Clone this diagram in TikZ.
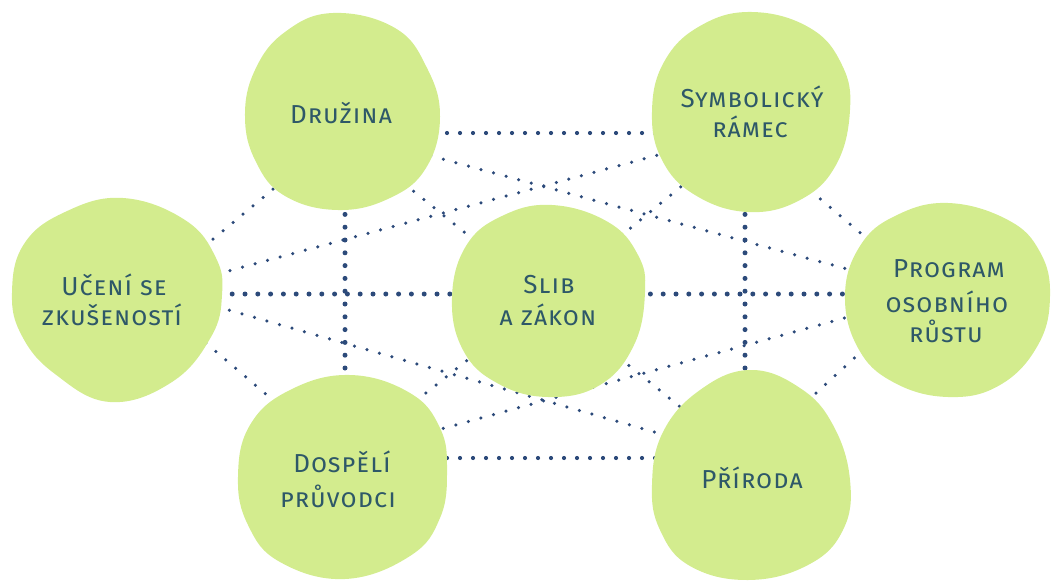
\documentclass[tikz,border=0pt]{standalone}
\usepackage{fontspec}
\setmainfont{Fira Sans}
\newfontfamily\lblfont[Letters=SmallCaps,LetterSpace=4]{Fira Sans}
\usetikzlibrary{calc}
\definecolor{blobgreen}{HTML}{D3EC8E}
\definecolor{dotblue}{HTML}{2C4A7A}
\definecolor{txtcol}{HTML}{2E5868}
\pgfdeclarelayer{edges}
\pgfdeclarelayer{blobs}
\pgfsetlayers{edges,blobs,main}
\begin{document}
\begin{tikzpicture}[x=1pt,y=-1pt,
  thindots/.style={draw=dotblue, line width=3.5pt, line cap=round, dash pattern=on 0pt off 13pt},
  middots/.style={draw=dotblue, line width=4.2pt, line cap=round, dash pattern=on 0pt off 13pt},
  thickdots/.style={draw=dotblue, line width=5pt, line cap=round, dash pattern=on 0pt off 12.8pt},
  blob/.style={fill=blobgreen},
  lbl/.style={text=txtcol, font=\lblfont\fontsize{26}{30}\selectfont, anchor=base, inner sep=0pt}]
\useasboundingbox (0,0) rectangle (1053,581);

% centres of the blobs
\coordinate (D) at (343,112);
\coordinate (S) at (751,112);
\coordinate (U) at (117,298);
\coordinate (L) at (548,300);
\coordinate (P) at (950,300);
\coordinate (A) at (343,478);
\coordinate (R) at (752,476);

\begin{pgfonlayer}{edges}
\draw[middots] ($(D)+(0,21)$) -- ($(S)+(0,21)$);
\draw[middots] ($(A)+(0,-20)$) -- ($(R)+(0,-18)$);
\draw[thickdots] ($(U)+(0,-4)$) -- ($(L)+(0,-6)$);
\draw[thickdots] ($(L)+(0,-6)$) -- ($(P)+(0,-6)$);
\draw[thickdots] ($(D)+(2,0)$) -- ($(A)+(2,0)$);
\draw[thickdots] ($(S)+(-6,0)$) -- ($(R)+(-7,0)$);
\draw[thindots] ($(D)+(0,19)$) -- ($(U)+(0,21)$);
\draw[thindots] ($(S)+(0,28)$) -- ($(P)+(0,9)$);
\draw[thindots] ($(U)+(0,-31)$) -- ($(A)+(0,-18)$);
\draw[thindots] ($(P)+(0,-30)$) -- ($(R)+(0,-24)$);
\draw[thindots] ($(U)+(0,3)$) -- ($(S)+(0,18)$);
\draw[thindots] ($(U)+(0,-20)$) -- ($(R)+(0,-16)$);
\draw[thindots] ($(D)+(0,20)$) -- ($(P)+(0,-3)$);
\draw[thindots] ($(A)+(0,-22)$) -- ($(P)+(0,-11)$);
\draw[thindots] ($(D)+(0,22)$) -- (L);
\draw[thindots] (L) -- ($(R)+(0,-11)$);
\draw[thindots] ($(S)+(0,17)$) -- ($(L)+(0,-4)$);
\draw[thindots] ($(L)+(0,-4)$) -- ($(A)+(0,-19)$);
\end{pgfonlayer}

\begin{pgfonlayer}{blobs}
% Druzina
\fill[blob] plot[smooth cycle, tension=0.7] coordinates {(333,13) (395,28) (427,68) (440,117) (426,168) (390,198) (338,210) (285,196) (256,162) (245,117) (255,70) (285,32)};
% Symbolicky ramec
\fill[blob] plot[smooth cycle, tension=0.7] coordinates {(752,12) (810,28) (842,65) (850,110) (836,165) (800,200) (748,212) (695,195) (662,160) (652,112) (664,62) (700,26)};
% Uceni se zkusenosti
\fill[blob] plot[smooth cycle, tension=0.7] coordinates {(123,198) (185,220) (216,258) (222,295) (211,337) (172,382) (110,402) (55,374) (22,336) (12,293) (24,244) (65,212)};
% Slib a zakon
\fill[blob] plot[smooth cycle, tension=0.7] coordinates {(552,205) (608,222) (638,255) (645,292) (634,345) (600,385) (548,397) (497,383) (463,350) (452,298) (466,246) (502,216)};
% Program osobniho rustu
\fill[blob] plot[smooth cycle, tension=0.7] coordinates {(948,203) (1008,220) (1040,252) (1050,296) (1038,345) (1000,385) (948,397) (893,382) (858,348) (845,295) (860,246) (895,216)};
% Dospeli pruvodci
\fill[blob] plot[smooth cycle, tension=0.7] coordinates {(350,375) (410,393) (440,428) (447,470) (440,518) (410,556) (345,579) (280,562) (248,525) (238,477) (250,425) (290,390)};
% Priroda
\fill[blob] plot[smooth cycle, tension=0.7] coordinates {(750,370) (800,388) (833,425) (850,480) (843,530) (808,565) (748,580) (690,566) (660,530) (652,485) (663,432) (700,390)};
\end{pgfonlayer}

\node[lbl] (D1) at (341,123) {Družina};
\node[lbl] (S1) at (752,107) {Symbolický};
\node[lbl] (S2) at (750,137) {rámec};
\node[lbl] (U1) at (114,295) {Učení se};
\node[lbl] (U2) at (112,325) {zkušeností};
\node[lbl] (L1) at (549,293) {Slib};
\node[lbl] (L2) at (548,325) {a zákon};
\node[lbl] (P1) at (949,277) {Program};
\node[lbl] (P2) at (947,312) {osobního};
\node[lbl] (P3) at (946,342) {růstu};
\node[lbl] (A1) at (342,472) {Dospělí};
\node[lbl] (A2) at (338,507) {průvodci};
\node[lbl] (R1) at (752,488) {Příroda};
\end{tikzpicture}
\end{document}
